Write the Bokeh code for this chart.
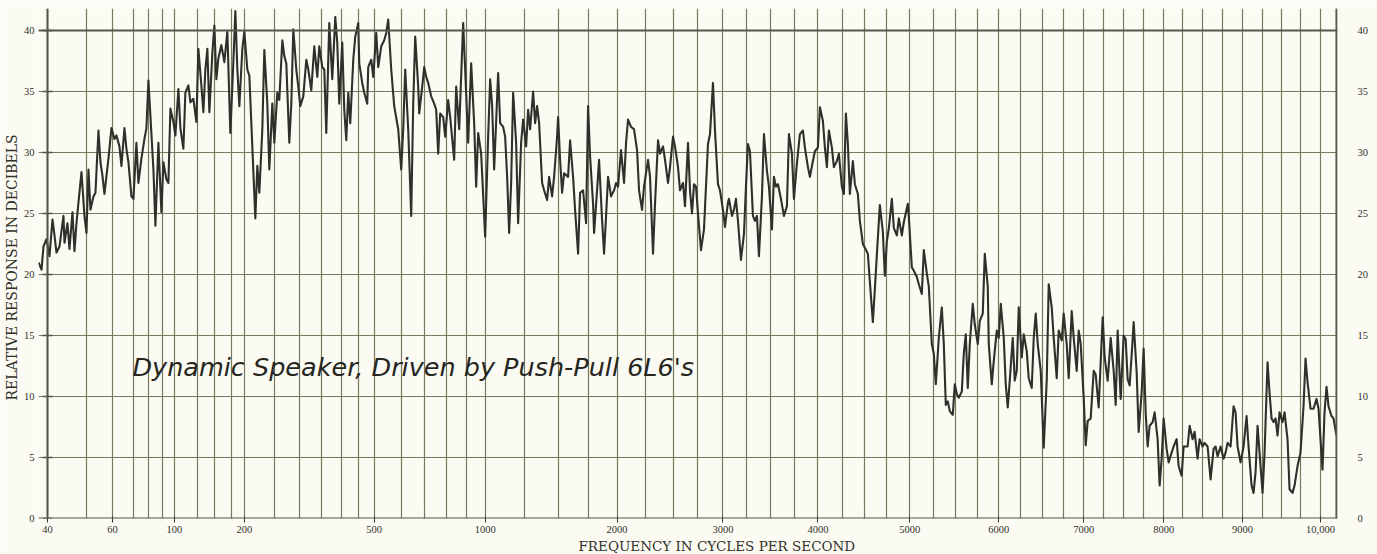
from bokeh.plotting import figure
from bokeh.models import FixedTicker, Label, LinearAxis, Range1d, Span, Title
from bokeh.embed import file_html
from bokeh.resources import INLINE

# ---- axis definitions (x is position along the printed frequency scale) ----
freq_labels = ["40", "60", "100", "200", "500", "1000", "2000", "3000", "4000",
               "5000", "6000", "7000", "8000", "9000", "10,000"]
freq_pos = [0, 65, 127, 197, 327, 438, 570, 676, 771, 863, 952, 1037, 1117, 1196, 1274]
grid_pos = [0, 39, 65, 86, 101, 115, 127, 150, 167, 184, 197, 227, 252, 274, 294, 311,
            327, 354, 377, 399, 419, 438, 477, 511, 541, 570, 598, 626, 651, 676, 700,
            724, 748, 771, 796, 818, 840, 863, 887, 909, 931, 952, 974, 996, 1017, 1037,
            1057, 1077, 1097, 1117, 1136, 1156, 1176, 1196, 1216, 1235, 1254, 1274, 1290]
db_ticks = [0, 5, 10, 15, 20, 25, 30, 35, 40]

# ---- response trace ----
pos = [-9, -6, -4, -1, 2, 5, 7, 9, 12, 16, 17, 20, 22, 25, 27, 29, 31, 34, 37, 39, 41, 43,
       46, 48, 51, 53, 55, 57, 61, 64, 67, 69, 72, 74, 77, 79, 81, 84, 86, 89, 91, 94, 97,
       99, 101, 103, 106, 108, 111, 114, 116, 119, 121, 123, 126, 128, 131, 133, 136, 138,
       141, 143, 146, 149, 151, 154, 156, 158, 160, 162, 165, 167, 169, 171, 174, 177, 180,
       183, 186, 188, 190, 192, 195, 197, 200, 202,
       208, 210, 212, 215, 217, 220, 222, 225, 227, 230, 232, 235, 237, 239, 242, 244, 246,
       249, 251, 253, 256, 259, 261, 264, 267, 270, 272, 275, 277, 279, 282, 285, 288, 290,
       292, 295, 297, 299, 301, 303, 306, 308, 311, 312, 315, 317, 320, 321, 324, 326, 329,
       331, 334, 337, 339, 341, 344, 347, 351, 354, 356, 358, 361, 364, 366, 368, 371, 372,
       375, 377, 379, 381, 384, 387, 389, 391, 393, 396, 398, 401, 403, 407, 409, 412, 416,
       418, 421, 424,
       427, 429, 431, 434, 438, 441, 443, 445, 447, 451, 453, 456, 458, 460, 462, 464, 466,
       469, 471, 474, 476, 479, 481, 483, 486, 488, 490, 492, 495, 497, 500, 502, 505, 507,
       510, 511, 513, 515, 517, 521, 523, 526, 528, 531, 533, 536, 539, 541, 543, 546, 547,
       550, 552, 555, 557, 559, 561, 564, 567, 569, 571, 574, 577, 579, 581, 584, 587, 590,
       592, 595, 597, 601, 603, 606, 608, 611, 613, 616, 618, 621, 623, 626, 628, 631, 633,
       636, 638, 641, 643,
       645, 647, 649, 651, 654, 657, 659, 661, 663, 666, 668, 671, 673, 676, 678, 681, 682,
       685, 687, 689, 691, 694, 697, 699, 701, 703, 706, 708, 710, 712, 715, 717, 720, 722,
       725, 727, 729, 731, 734, 737, 740, 742, 745, 747, 750, 753, 756, 758, 761, 763, 766,
       768, 771, 773, 776, 778, 780, 782, 785, 787, 790, 792, 795, 797, 799, 801, 803, 806,
       808, 811, 813, 816, 818, 821,
       823, 826, 828, 831, 833, 836, 838, 840, 842, 845, 847, 850, 852, 855, 857,
       861, 862, 865, 867, 870, 872, 875, 877, 880, 882, 885, 887, 889, 892, 895, 897, 899,
       901, 903, 906, 908, 910, 912, 915, 917, 919, 921, 923, 926, 928, 931, 933, 936, 938,
       941, 942, 945, 947, 950, 952, 954, 957, 959, 961, 963, 966, 968, 970, 972, 975, 977,
       980, 982, 985, 987, 989, 991, 994, 997, 1000, 1002, 1005, 1007, 1010, 1012, 1015,
       1017, 1020, 1022, 1025, 1027, 1030, 1032, 1034, 1037, 1039, 1041, 1044, 1047, 1049,
       1052, 1056, 1058, 1061, 1064, 1067, 1069, 1071,
       1074, 1077, 1079, 1081, 1083, 1086, 1087, 1090, 1092, 1095, 1097, 1099, 1101, 1103,
       1106, 1108, 1111, 1113, 1115, 1117, 1120, 1122, 1125, 1127, 1130, 1132, 1135, 1137,
       1139, 1141, 1143, 1146, 1148, 1151, 1153, 1156, 1158, 1161, 1164, 1167, 1169, 1171,
       1174, 1177, 1179, 1181, 1184, 1187, 1189, 1191, 1194, 1197, 1200, 1202, 1205, 1207,
       1209, 1211, 1213, 1216, 1218, 1221, 1223, 1225, 1227, 1229, 1231, 1233, 1236, 1238,
       1241, 1243, 1246, 1248, 1251, 1254, 1257, 1259, 1261, 1264, 1267, 1270, 1272, 1276,
       1278, 1280, 1282, 1285, 1287, 1290]
db = [21.0, 20.4, 22.3, 22.9, 21.5, 24.5, 23.2, 21.8, 22.3, 24.8, 22.6, 24.2, 22.1, 25.1,
      21.9, 24.2, 25.9, 28.4, 24.8, 23.4, 28.6, 25.3, 26.4, 26.7, 31.8, 29.2, 28.1, 26.6,
      29.5, 32.0, 31.1, 31.4, 30.5, 28.9, 32.0, 30.3, 29.2, 26.4, 26.2, 30.8, 27.5, 29.5,
      31.1, 32.0, 35.9, 33.0, 28.6, 24.0, 30.8, 25.1, 29.2, 27.8, 27.5, 33.6, 32.5, 31.4,
      35.2, 32.0, 30.3, 34.9, 35.5, 34.1, 34.4, 32.5, 38.5, 35.5, 33.3, 36.8, 38.5, 33.3,
      38.2, 40.4, 36.0, 37.7, 38.8, 37.4, 39.9, 31.6, 37.4, 41.6, 36.8, 33.8, 38.5, 39.9,
      36.8, 36.3,
      24.6, 28.9, 26.7, 31.9, 38.4, 34.0, 28.6, 34.0, 30.8, 34.9, 34.3, 39.2, 37.9, 37.3,
      30.8, 34.0, 40.1, 36.8, 35.4, 33.8, 34.6, 37.6, 36.8, 35.1, 38.7, 36.2, 38.7, 37.0,
      36.8, 31.6, 40.6, 36.0, 41.1, 39.0, 34.0, 39.0, 33.5, 31.0, 34.9, 32.4, 37.6, 39.5,
      40.6, 37.3, 35.7, 34.9, 34.0, 37.0, 37.6, 36.2, 39.8, 37.0, 38.7, 39.2, 39.8, 40.9,
      36.8, 33.8, 31.9, 28.6, 31.9, 36.8, 31.9, 24.8, 34.0, 39.5, 35.4, 33.2, 35.4, 37.0,
      36.2, 35.7, 34.6, 34.0, 33.5, 29.9, 33.2, 32.9, 31.3, 34.3, 32.9, 29.4, 35.4, 31.9,
      40.6, 36.8, 30.8, 37.3,
      32.4, 27.2, 31.6, 29.9, 23.1, 31.3, 36.0, 33.8, 28.6, 36.5, 32.4, 32.1, 31.3, 28.0,
      23.4, 27.5, 34.9, 30.8, 24.2, 30.8, 32.7, 30.5, 33.5, 31.9, 35.0, 32.4, 33.8, 32.4,
      27.5, 26.9, 26.1, 28.0, 26.4, 28.0, 31.3, 32.9, 29.4, 26.7, 28.3, 28.0, 31.0, 28.0,
      25.3, 21.7, 26.7, 26.9, 24.2, 33.8, 29.7, 25.8, 23.4, 26.9, 29.4, 24.5, 21.7, 24.8,
      28.0, 26.4, 26.9, 27.5, 27.2, 30.2, 27.5, 30.8, 32.7, 32.1, 31.9, 30.2, 26.9, 25.3,
      27.2, 29.4, 28.0, 21.7, 25.8, 31.0, 29.9, 30.5, 29.4, 27.5, 28.8, 31.3, 30.5, 28.8,
      26.9, 27.5, 25.6, 30.8, 26.9,
      25.0, 27.4, 27.2, 25.0, 22.0, 23.7, 27.2, 30.7, 31.5, 35.7, 31.8, 27.4, 26.9, 25.3,
      23.9, 25.9, 26.2, 24.8, 25.3, 26.2, 24.4, 21.2, 23.3, 27.2, 30.7, 30.1, 24.8, 24.4,
      24.8, 21.5, 26.4, 31.5, 28.5, 27.2, 23.7, 28.0, 27.2, 27.4, 26.2, 24.8, 25.6, 31.5,
      29.9, 26.2, 29.1, 31.5, 31.8, 30.4, 28.8, 28.0, 29.3, 30.1, 30.4, 33.7, 32.6, 30.4,
      28.8, 31.8, 30.4, 28.8, 29.3, 29.9, 27.2, 26.6, 33.2, 30.7, 26.6, 29.3, 27.4, 26.6,
      24.4, 22.5, 22.2, 21.7,
      19.4, 16.1, 18.8, 23.0, 25.7, 23.5, 19.9, 22.7, 23.8, 26.2, 23.8, 23.2, 24.6, 23.2,
      24.3,
      25.8, 24.7, 20.6, 20.3, 19.8, 19.2, 18.4, 22.0, 20.1, 19.0, 14.3, 13.5, 11.0, 14.8,
      17.3, 14.3, 9.3, 9.6, 8.8, 8.5, 11.0, 10.2, 9.9, 10.4, 13.5, 15.1, 10.7, 14.3, 17.6,
      15.9, 14.3, 16.2, 16.8, 21.7, 19.0, 14.3, 11.0, 12.9, 15.4, 14.8, 17.6, 14.8, 11.0,
      9.1, 11.3, 14.8, 11.3, 12.1, 17.3, 13.2, 15.1, 13.7, 11.5, 10.7, 14.8, 16.8, 14.3,
      12.1, 5.8, 11.3, 19.2, 17.3, 14.8, 11.5, 15.4, 14.6, 16.8, 14.3, 11.5, 17.0, 14.8,
      12.1, 15.4, 14.3, 9.9, 6.0, 8.0, 8.2, 12.1, 11.8, 9.1, 16.5, 13.2, 11.3, 14.8, 12.1,
      9.3, 15.4,
      9.8, 15.0, 14.7, 11.4, 10.9, 14.7, 16.1, 12.0, 7.1, 10.3, 13.9, 8.7, 5.9, 7.6, 7.9,
      8.7, 6.5, 2.7, 4.9, 8.2, 5.7, 4.6, 5.4, 5.9, 6.5, 4.3, 3.5, 5.9, 5.9, 5.9, 7.6, 6.5,
      7.1, 4.9, 6.5, 5.9, 6.2, 5.9, 3.2, 5.7, 5.9, 5.1, 5.9, 4.9, 5.4, 6.2, 5.9, 9.2, 8.7,
      5.9, 4.6, 5.9, 8.4, 5.9, 2.7, 2.1, 3.8, 7.6, 5.4, 2.1, 5.4, 12.8, 10.3, 8.2, 7.9,
      8.2, 6.8, 8.7, 7.9, 8.7, 6.5, 2.4, 2.1, 2.7, 4.3, 5.4, 9.2, 13.1, 11.2, 9.0, 9.0, 9.8,
      9.0, 4.0, 8.7, 10.8, 9.2, 8.4, 8.2, 6.8]

title_x = "FREQUENCY IN CYCLES PER SECOND"
title_y = "RELATIVE RESPONSE IN DECIBELS"
note = "Dynamic Speaker, Driven by Push-Pull 6L6's"

BG = "#fbfbf3"
GRID = "#78785f"
INK = "#30302a"
SERIF = "Liberation Serif"
TSERIF = "DejaVu Serif"

p = figure(width=1377, height=554, x_range=Range1d(-9, 1291), y_range=Range1d(0, 41.8),
           output_backend="svg", toolbar_location=None,
           min_border_left=37, min_border_right=40, min_border_top=8, min_border_bottom=36)
p.background_fill_color = BG
p.border_fill_color = BG
p.outline_line_color = None

# grid
p.xgrid.ticker = FixedTicker(ticks=grid_pos)
p.ygrid.ticker = FixedTicker(ticks=db_ticks)
for g in (p.xgrid, p.ygrid):
    g.grid_line_color = GRID
    g.grid_line_width = 1.2
    g.grid_line_alpha = 1.0

# frame lines
for loc, dim in ((grid_pos[0], "height"), (grid_pos[-1], "height"),
                 (db_ticks[0], "width"), (db_ticks[-1], "width")):
    p.add_layout(Span(location=loc, dimension=dim, line_color="#56564a", line_width=2))

# small tick marks crossing the left frame
p.segment(x0=[grid_pos[0] - 5] * len(db_ticks), y0=db_ticks,
          x1=[grid_pos[0] + 5] * len(db_ticks), y1=db_ticks,
          line_color="#56564a", line_width=1.5)

# x axis
xa = p.xaxis[0]
xa.ticker = FixedTicker(ticks=freq_pos)
xa.major_label_overrides = {fp: lab for fp, lab in zip(freq_pos, freq_labels)}
xa.axis_line_color = None
xa.major_tick_in = 2
xa.major_tick_out = 4
xa.major_tick_line_color = INK
xa.minor_tick_line_color = None
xa.major_label_standoff = 3
xa.major_label_text_font = SERIF
xa.major_label_text_font_size = "10.5px"
xa.major_label_text_color = INK

# y axes
ya = p.yaxis[0]
ya.ticker = FixedTicker(ticks=db_ticks)
ya.axis_line_color = None
ya.major_tick_line_color = None
ya.minor_tick_line_color = None
ya.major_label_standoff = -2
ya.major_label_text_font = SERIF
ya.major_label_text_font_size = "10.5px"
ya.major_label_text_color = INK

ra = LinearAxis(ticker=FixedTicker(ticks=db_ticks), axis_line_color=None,
                major_tick_line_color=None, minor_tick_line_color=None,
                major_label_standoff=14, major_label_text_font=SERIF,
                major_label_text_font_size="10.5px", major_label_text_color=INK)
p.add_layout(ra, "right")

# axis titles
p.add_layout(Title(text=title_y, align="left", offset=118, standoff=2,
                   text_font=TSERIF, text_font_size="14px", text_font_style="normal",
                   text_color=INK), "left")
p.add_layout(Title(text=title_x, align="left", offset=540, standoff=0,
                   text_font=TSERIF, text_font_size="13.5px", text_font_style="normal",
                   text_color=INK), "below")

# response trace
p.line(pos, db, line_color=INK, line_width=2.1, line_join="round")

# annotation
p.add_layout(Label(x=85, y=12.4, text=note, text_font="DejaVu Sans", text_font_style="italic",
                   text_font_size="25.5px", text_color="#26261f", text_baseline="middle"))

open("out.html", "w").write(file_html(p, INLINE))
